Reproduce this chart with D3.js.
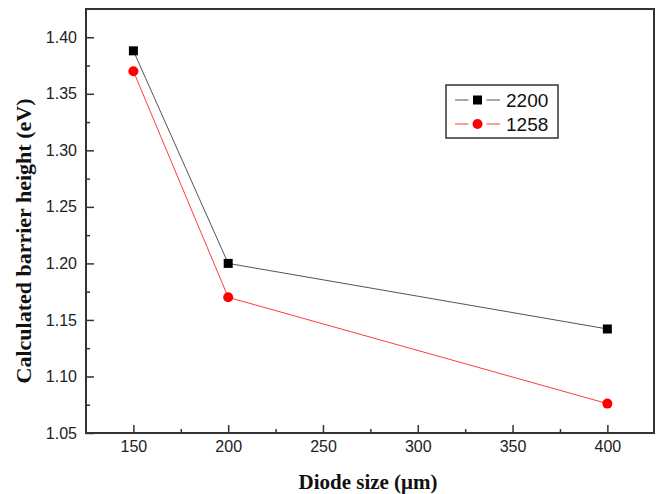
<!DOCTYPE html>
<html>
<head>
<meta charset="utf-8">
<script src="https://cdn.jsdelivr.net/npm/d3@7"></script>
<style>
  body { margin: 0; background: #fff; }
  .tick text { font-family: Arial, "Liberation Sans", sans-serif; font-size: 16px; fill: #222; }
</style>
</head>
<body>
<div id="chart"></div>
<script>
// diode sizes (µm) and barrier heights (eV)
const diodeSizes = [150, 200, 400]
const barrier2200 = [1.388, 1.200, 1.142]
const barrier1258 = [1.370, 1.170, 1.076]
const xTicks = [150, 200, 250, 300, 350, 400]
const yTicks = [1.05, 1.10, 1.15, 1.20, 1.25, 1.30, 1.35, 1.40]

const width = 656, height = 494
const margin = { top: 9, right: 2, bottom: 61, left: 86 }
const innerW = width - margin.left - margin.right
const innerH = height - margin.top - margin.bottom

const svg = d3.select("#chart")
    .append("svg")
    .attr("width", width)
    .attr("height", height)

const g = svg.append("g")
    .attr("transform", `translate(${margin.left},${margin.top})`)

const x = d3.scaleLinear().domain([125, 424.6]).range([0, innerW])
const y = d3.scaleLinear().domain([1.05, 1.425]).range([innerH, 0])

// minor ticks halfway between majors
const xMinor = d3.range(175, 400, 50)
const yMinor = d3.range(1.075, 1.40, 0.05)

const axisColor = "#333"

g.append("g")
    .attr("transform", `translate(0,${innerH})`)
    .call(d3.axisBottom(x).tickValues(xMinor).tickSize(-4).tickFormat(""))
    .call(a => a.select(".domain").remove())
    .call(a => a.selectAll("line").attr("stroke", axisColor).attr("stroke-width", 1.5))

g.append("g")
    .attr("transform", `translate(0,${innerH})`)
    .call(d3.axisBottom(x).tickValues(xTicks).tickSize(-8).tickPadding(8).tickFormat(d3.format("d")))
    .call(a => a.select(".domain").remove())
    .call(a => a.selectAll("line").attr("stroke", axisColor).attr("stroke-width", 1.5))

g.append("g")
    .call(d3.axisLeft(y).tickValues(yMinor).tickSize(-4).tickFormat(""))
    .call(a => a.select(".domain").remove())
    .call(a => a.selectAll("line").attr("stroke", axisColor).attr("stroke-width", 1.5))

g.append("g")
    .call(d3.axisLeft(y).tickValues(yTicks).tickSize(-8).tickPadding(9).tickFormat(d3.format(".2f")))
    .call(a => a.select(".domain").remove())
    .call(a => a.selectAll("line").attr("stroke", axisColor).attr("stroke-width", 1.5))

// frame
g.append("rect")
    .attr("width", innerW)
    .attr("height", innerH)
    .attr("fill", "none")
    .attr("stroke", axisColor)
    .attr("stroke-width", 2)

const series = [
    { name: "2200", values: barrier2200, color: "#000", line: "#555", shape: "square" },
    { name: "1258", values: barrier1258, color: "#f00", line: "#ff3b3b", shape: "circle" }
]

const line = d3.line()
    .x(d => x(d[0]))
    .y(d => y(d[1]))

function drawMarker(sel, s, cx, cy) {
    if (s.shape === "square") {
        sel.append("rect")
            .attr("x", cx - 4.5).attr("y", cy - 4.5)
            .attr("width", 9).attr("height", 9)
            .attr("fill", s.color)
    } else {
        sel.append("circle")
            .attr("cx", cx).attr("cy", cy)
            .attr("r", 5)
            .attr("fill", s.color)
    }
}

series.forEach(s => {
    const pts = diodeSizes.map((d, i) => [d, s.values[i]])
    g.append("path")
        .datum(pts)
        .attr("d", line)
        .attr("fill", "none")
        .attr("stroke", s.line)
        .attr("stroke-width", 1)
    pts.forEach(p => drawMarker(g, s, x(p[0]), y(p[1])))
})

// legend, line segments leave a gap around the symbol
const legend = svg.append("g").attr("transform", "translate(446,85)")
legend.append("rect")
    .attr("width", 112).attr("height", 53)
    .attr("fill", "#fff")
    .attr("stroke", axisColor)
    .attr("stroke-width", 1.5)

series.forEach((s, i) => {
    const ly = 15 + i * 24
    ;[[9, 22.5], [40.5, 54]].forEach(([x1, x2]) => {
        legend.append("line")
            .attr("x1", x1).attr("x2", x2)
            .attr("y1", ly).attr("y2", ly)
            .attr("stroke", s.line).attr("stroke-width", 1)
    })
    drawMarker(legend, s, 31.5, ly)
    legend.append("text")
        .attr("x", 60).attr("y", ly + 7)
        .attr("font-family", "Arial, 'Liberation Sans', sans-serif")
        .attr("font-size", 19)
        .attr("fill", "#111")
        .text(s.name)
})

// axis titles
svg.append("text")
    .attr("x", margin.left + innerW / 2 - 2)
    .attr("y", 489)
    .attr("text-anchor", "middle")
    .attr("font-family", "'Liberation Serif', 'Times New Roman', serif")
    .attr("font-weight", "bold")
    .attr("font-size", 21)
    .attr("fill", "#111")
    .text("Diode size (μm)")

svg.append("text")
    .attr("transform", `translate(31,${margin.top + innerH / 2 + 20}) rotate(-90)`)
    .attr("text-anchor", "middle")
    .attr("font-family", "'Liberation Serif', 'Times New Roman', serif")
    .attr("font-weight", "bold")
    .attr("font-size", 22)
    .attr("fill", "#111")
    .text("Calculated barrier height (eV)")
</script>
</body>
</html>
